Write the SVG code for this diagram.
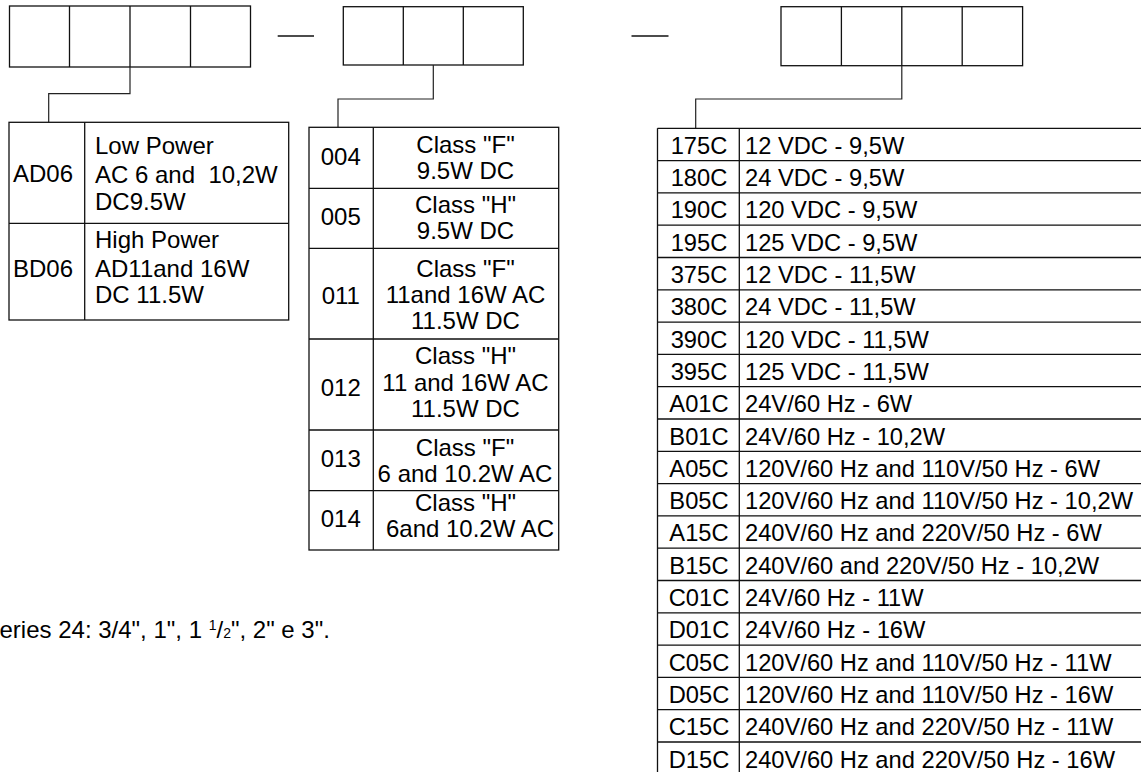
<svg xmlns="http://www.w3.org/2000/svg" width="1141" height="772" viewBox="0 0 1141 772">
<style>
.b{fill:none;stroke:#111;stroke-width:1.3}
.c{fill:none;stroke:#222;stroke-width:1.2}
text{font-family:"Liberation Sans",Arial,sans-serif;fill:#000}
.t24{font-size:24px}
.t23{font-size:23.7px}
.m{text-anchor:middle}
</style>
<rect width="1141" height="772" fill="#fff"/>
<g id="code-box-1">
<rect class="b" x="9.5" y="6" width="241" height="61"/>
<path class="b" d="M69.5 6V67M130 6V67M190.5 6V67"/>
</g>
<g id="dash-1"><path class="b" d="M277.7 36H314"/></g>
<g id="code-box-2">
<rect class="b" x="343.3" y="6.7" width="180" height="58.3"/>
<path class="b" d="M403.3 6.7V65M463.3 6.7V65"/>
</g>
<g id="dash-2"><path class="b" d="M631.5 36H668.5"/></g>
<g id="code-box-3">
<rect class="b" x="781" y="6.7" width="241.6" height="59"/>
<path class="b" d="M841.4 6.7V65.7M901.8 6.7V65.7M962.2 6.7V65.7"/>
</g>
<g id="connectors">
<path class="c" d="M130 67V93.7H48.7V122.3"/>
<path class="c" d="M433.3 65V99H338V127.3"/>
<path class="c" d="M901.8 65.7V99H695.7V128.3"/>
</g>
<g id="table-power">
<rect class="b" x="9" y="122.3" width="279.7" height="197.7"/>
<path class="b" d="M84.7 122.3V320M9 223.3H288.7"/>
<g id="row-AD06" class="t24">
<text x="13" y="181.7">AD06</text>
<text x="95" y="154">Low Power</text>
<text x="95" y="182.7" xml:space="preserve">AC 6 and  10,2W</text>
<text x="95" y="210">DC9.5W</text>
</g>
<g id="row-BD06" class="t24">
<text x="13" y="276.7">BD06</text>
<text x="95" y="248.3">High Power</text>
<text x="95" y="276.7">AD11and 16W</text>
<text x="95" y="303.3">DC 11.5W</text>
</g>
</g>
<g id="table-class">
<rect class="b" x="309" y="127.3" width="249.7" height="422.7"/>
<path class="b" d="M373.3 127.3V550M309 188.3H558.7M309 248.3H558.7M309 339H558.7M309 430H558.7M309 490.7H558.7"/>
<g class="t24">
<g id="row-004"><text class="m" x="340.8" y="165">004</text><text class="m" x="465.5" y="153.3">Class "F"</text><text class="m" x="465.5" y="179.3">9.5W DC</text></g>
<g id="row-005"><text class="m" x="340.8" y="225">005</text><text class="m" x="465.5" y="212.7">Class "H"</text><text class="m" x="465.5" y="239.3">9.5W DC</text></g>
<g id="row-011"><text class="m" x="340.8" y="304.3">011</text><text class="m" x="465.5" y="276.7">Class "F"</text><text class="m" x="465.5" y="303.3">11and 16W AC</text><text class="m" x="465.5" y="329.3">11.5W DC</text></g>
<g id="row-012"><text class="m" x="340.8" y="395.7">012</text><text class="m" x="465.5" y="364">Class "H"</text><text class="m" x="465.5" y="390.7">11 and 16W AC</text><text class="m" x="465.5" y="417.3">11.5W DC</text></g>
<g id="row-013"><text class="m" x="340.8" y="466.7">013</text><text class="m" x="465" y="455.7">Class "F"</text><text class="m" x="465" y="481.7">6 and 10.2W AC</text></g>
<g id="row-014"><text class="m" x="340.8" y="527.3">014</text><text class="m" x="465.5" y="511">Class "H"</text><text class="m" x="470" y="537.3">6and 10.2W AC</text></g>
</g>
</g>
<g id="table-voltage">
<path class="b" d="M657.5 128.3V772M739.3 128.3V772M657.5 128.3H1141M657.5 160.6H1141M657.5 192.9H1141M657.5 225.2H1141M657.5 257.5H1141M657.5 289.8H1141M657.5 322.1H1141M657.5 354.4H1141M657.5 386.7H1141M657.5 419H1141M657.5 451.3H1141M657.5 483.6H1141M657.5 515.9H1141M657.5 548.2H1141M657.5 580.5H1141M657.5 612.8H1141M657.5 645.1H1141M657.5 677.4H1141M657.5 709.7H1141M657.5 742H1141"/>
<g class="t23">
<g id="row-175C"><text class="m" x="699" y="153.8">175C</text><text x="745" y="153.8">12 VDC - 9,5W</text></g>
<g id="row-180C"><text class="m" x="699" y="186.1">180C</text><text x="745" y="186.1">24 VDC - 9,5W</text></g>
<g id="row-190C"><text class="m" x="699" y="218.4">190C</text><text x="745" y="218.4">120 VDC - 9,5W</text></g>
<g id="row-195C"><text class="m" x="699" y="250.7">195C</text><text x="745" y="250.7">125 VDC - 9,5W</text></g>
<g id="row-375C"><text class="m" x="699" y="283">375C</text><text x="745" y="283">12 VDC - 11,5W</text></g>
<g id="row-380C"><text class="m" x="699" y="315.3">380C</text><text x="745" y="315.3">24 VDC - 11,5W</text></g>
<g id="row-390C"><text class="m" x="699" y="347.6">390C</text><text x="745" y="347.6">120 VDC - 11,5W</text></g>
<g id="row-395C"><text class="m" x="699" y="379.9">395C</text><text x="745" y="379.9">125 VDC - 11,5W</text></g>
<g id="row-A01C"><text class="m" x="699" y="412.2">A01C</text><text x="745" y="412.2">24V/60 Hz - 6W</text></g>
<g id="row-B01C"><text class="m" x="699" y="444.5">B01C</text><text x="745" y="444.5">24V/60 Hz - 10,2W</text></g>
<g id="row-A05C"><text class="m" x="699" y="476.8">A05C</text><text x="745" y="476.8">120V/60 Hz and 110V/50 Hz - 6W</text></g>
<g id="row-B05C"><text class="m" x="699" y="509.1">B05C</text><text x="745" y="509.1">120V/60 Hz and 110V/50 Hz - 10,2W</text></g>
<g id="row-A15C"><text class="m" x="699" y="541.4">A15C</text><text x="745" y="541.4">240V/60 Hz and 220V/50 Hz - 6W</text></g>
<g id="row-B15C"><text class="m" x="699" y="573.7">B15C</text><text x="745" y="573.7">240V/60 and 220V/50 Hz - 10,2W</text></g>
<g id="row-C01C"><text class="m" x="699" y="606">C01C</text><text x="745" y="606">24V/60 Hz - 11W</text></g>
<g id="row-D01C"><text class="m" x="699" y="638.3">D01C</text><text x="745" y="638.3">24V/60 Hz - 16W</text></g>
<g id="row-C05C"><text class="m" x="699" y="670.6">C05C</text><text x="745" y="670.6">120V/60 Hz and 110V/50 Hz - 11W</text></g>
<g id="row-D05C"><text class="m" x="699" y="702.9">D05C</text><text x="745" y="702.9">120V/60 Hz and 110V/50 Hz - 16W</text></g>
<g id="row-C15C"><text class="m" x="699" y="735.2">C15C</text><text x="745" y="735.2">240V/60 Hz and 220V/50 Hz - 11W</text></g>
<g id="row-D15C"><text class="m" x="699" y="767.5">D15C</text><text x="745" y="767.5">240V/60 Hz and 220V/50 Hz - 16W</text></g>
</g>
</g>
<g id="note">
<text class="t24" x="-0.5" y="638">eries 24: 3/4", 1", 1 <tspan font-size="14" dy="-8">1</tspan><tspan dy="8">/</tspan><tspan font-size="14">2</tspan>", 2" e 3".</text>
</g>
</svg>
